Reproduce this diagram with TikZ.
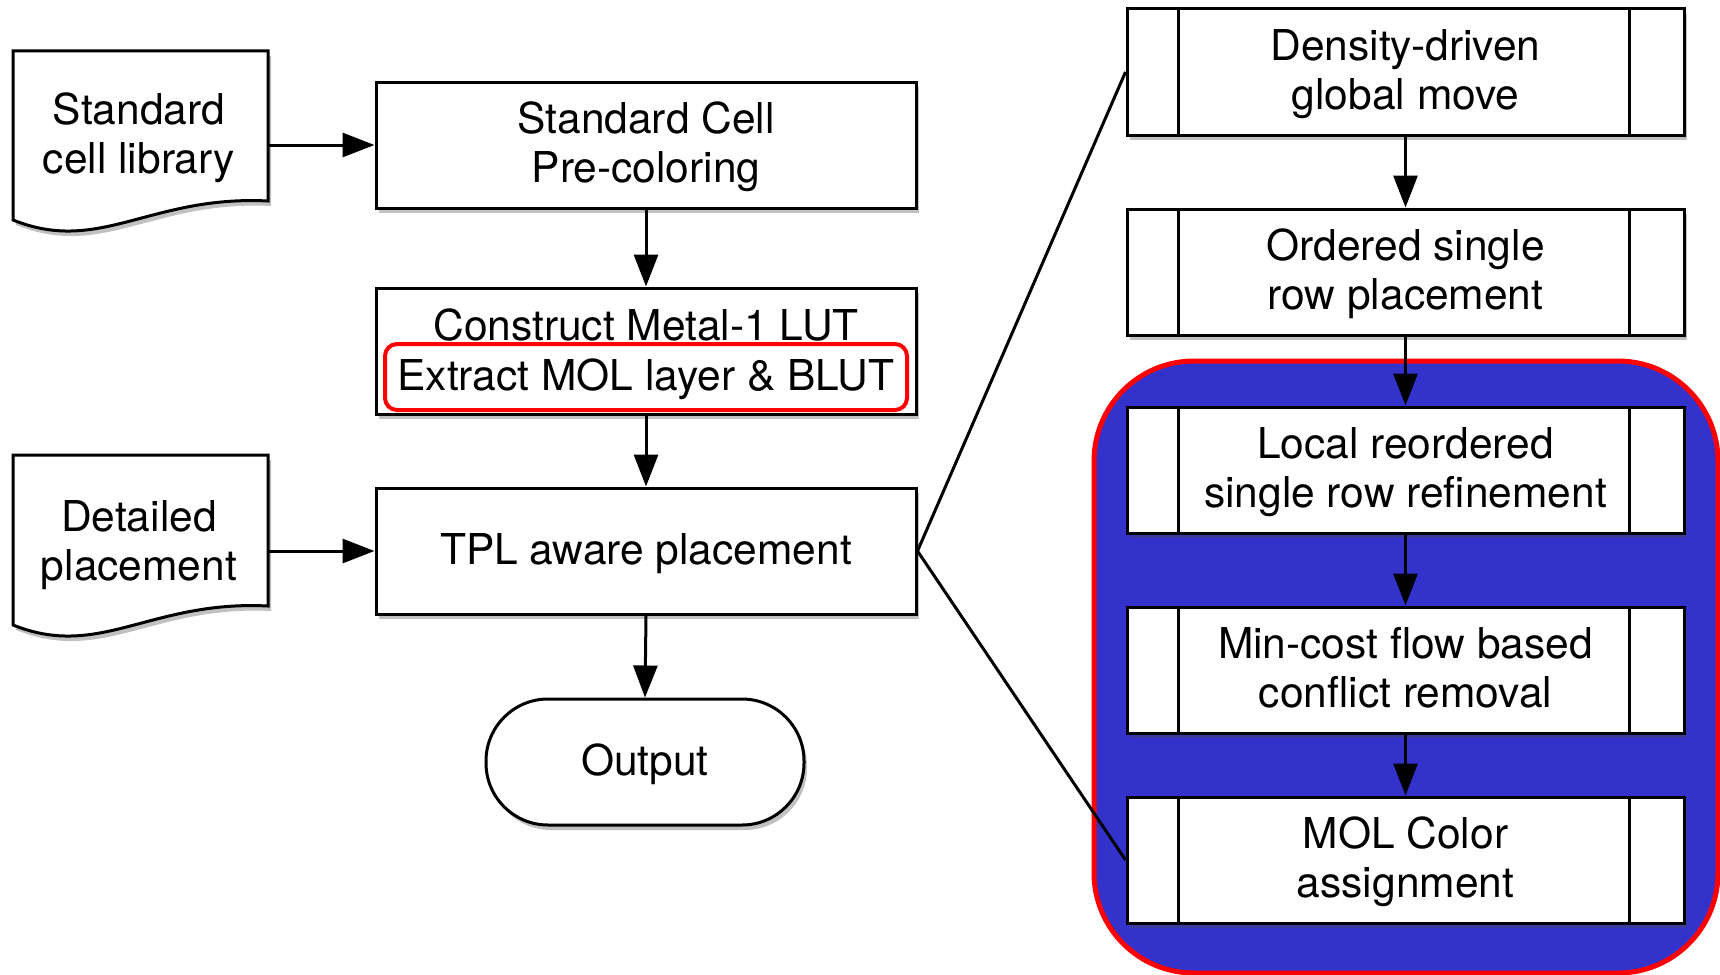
\documentclass[tikz,border=0pt]{standalone}
\usepackage{fontspec}
\setmainfont{TeX Gyre Heros}
\usetikzlibrary{arrows.meta,shadows,calc}
\definecolor{grpblue}{RGB}{51,51,204}
\newcommand\ls{\rule[-11.2pt]{0pt}{49pt}}
\begin{document}
\begin{tikzpicture}[x=1pt,y=-1pt,
  every node/.style={font=\fontsize{42.5}{49}\selectfont, align=center, inner sep=0pt},
  shd/.style={drop shadow={shadow xshift=3pt, shadow yshift=-5pt, opacity=0.35, fill=black!70}},
  box/.style={draw, line width=3pt, fill=white, minimum width=540pt, minimum height=126pt, shd},
  subbox/.style={draw, line width=3pt, fill=white, minimum width=557pt, minimum height=126pt, shd},
  docshape/.style={draw, line width=3pt, fill=white, shd},
  doctext/.style={minimum width=258pt},
  arr/.style={line width=3pt, -{Triangle[length=32pt,width=24pt]}},
  conn/.style={line width=3pt},
  hl/.style={draw=red, line width=4pt, fill=white, rounded corners=12pt, minimum width=522pt, minimum height=66pt},
  grp/.style={draw=red, line width=5pt, fill=grpblue, rounded corners=100pt, minimum width=624pt, minimum height=612pt}
]
\useasboundingbox (0,0) rectangle (1720,974);

% documents
\path[docshape] (13,51) -- (268,51) -- (268,201) .. controls (150,195) and (100,255) .. (13,220) -- cycle;
\node[doctext] (scl) at (139,135.7) {\ls Standard\\\ls cell library};
\path[docshape] (13,455) -- (268,455) -- (268,606) .. controls (150,600) and (100,660) .. (13,625) -- cycle;
\node[doctext] (dp) at (139,542.5) {\ls Detailed\\\ls placement};

% left column
\node[box] (pre) at (646,145) {\ls Standard Cell\\\ls Pre-coloring};
\node[box] (con) at (646,351) {};
\node (cml) at (646,327) {\ls Construct Metal-1 LUT};
\node[hl] (ext) at (646,377) {\ls Extract MOL layer \& BLUT};
\node[box] (tpl) at (646,551) {\ls TPL aware placement};
\node[draw, line width=3pt, fill=white, rounded corners=62pt, minimum width=318pt, minimum height=126pt, shd] (out) at (645,762) {\ls Output};

% group region
\node[grp] (grp) at (1406,667) {};

% right column
\node[subbox] (b1) at (1405.5,72) {\ls Density-driven\\\ls global move};
\node[subbox] (b2) at (1405.5,272) {\ls Ordered single\\\ls row placement};
\node[subbox] (b3) at (1405.5,470) {\ls Local reordered\\\ls single row refinement};
\node[subbox] (b4) at (1405.5,670) {\ls Min-cost flow based\\\ls conflict removal};
\node[subbox] (b5) at (1405.5,860) {\ls MOL Color\\\ls assignment};
\foreach \n in {b1,b2,b3,b4,b5}{
  \draw[line width=3pt] ([xshift=53pt]\n.north west) -- ([xshift=53pt]\n.south west);
  \draw[line width=3pt] ([xshift=-56pt]\n.north east) -- ([xshift=-56pt]\n.south east);
}

% arrows
\draw[arr] (scl.east |- pre.west) -- (pre.west);
\draw[arr] (dp.east |- tpl.west) -- (tpl.west);
\draw[arr] (pre.south) -- (con.north);
\draw[arr] (con.south) -- (tpl.north);
\draw[arr] (tpl.south) -- (out.north);
\draw[arr] (b1.south) -- (b2.north);
\draw[arr] (b2.south) -- (b3.north);
\draw[arr] (b3.south) -- (b4.north);
\draw[arr] (b4.south) -- (b5.north);

% connectors
\draw[conn] (tpl.east) -- (b1.west);
\draw[conn] (tpl.east) -- (b5.west);
\end{tikzpicture}
\end{document}
